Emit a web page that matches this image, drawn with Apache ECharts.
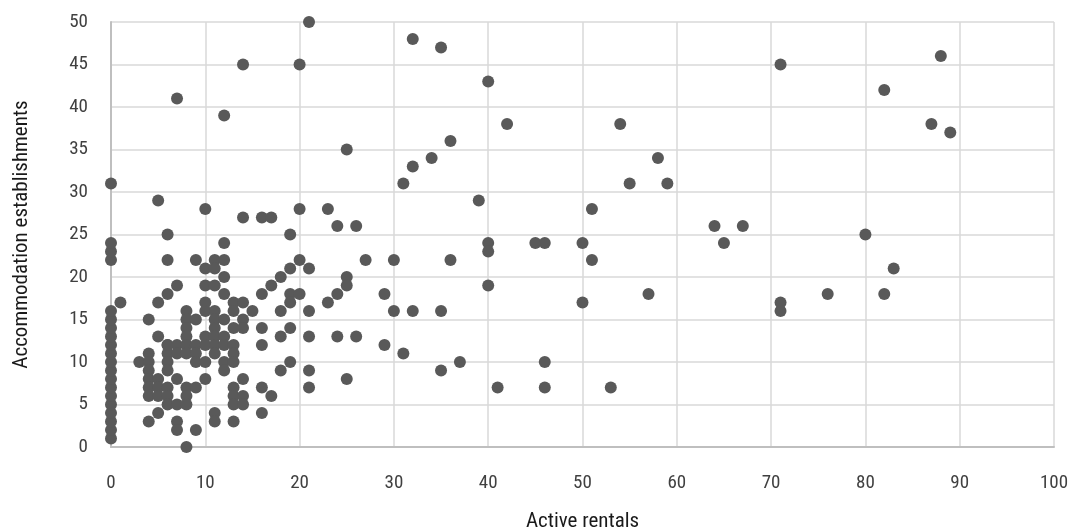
<!DOCTYPE html>
<html>
<head>
<meta charset="utf-8">
<script src="https://cdn.jsdelivr.net/npm/echarts@6/dist/echarts.min.js"></script>
<style>
html,body{margin:0;padding:0;background:#fff;}
#chart{width:1073px;height:530px;}
</style>
</head>
<body>
<div id="chart"></div>
<script>
// Active rentals (x) values, by group
const activeRentals = [
  0,0,0,0,0,0,0,0,0,0,0,0,0,0,0,0,0,0,0,0,
  1,
  3,
  4,4,4,4,4,4,4,4,
  5,5,5,5,5,5,5,
  6,6,6,6,6,6,6,6,6,6,6,
  7,7,7,7,7,7,7,7,
  8,8,8,8,8,8,8,8,8,8,
  9,9,9,9,9,9,9,
  10,10,10,10,10,10,10,10,10,
  11,11,11,11,11,11,11,11,11,11,11,
  12,12,12,12,12,12,12,12,12,12,
  13,13,13,13,13,13,13,13,13,13,
  14,14,14,14,14,14,14,14,
  15,
  16,16,16,16,16,16,
  17,17,17,
  18,18,18,18,
  19,19,19,19,19,19,
  20,20,20,20,
  21,21,21,21,21,21,
  23,23,
  24,24,24,
  25,25,25,25,
  26,26,
  27,
  29,29,
  30,30,
  31,31,
  32,32,32,
  34,
  35,35,35,
  36,36,
  37,
  39,
  40,40,40,40,
  41,
  42,
  45,46,46,46,
  50,50,
  51,51,
  53,
  54,55,57,58,59,
  64,65,67,
  71,71,71,
  76,80,82,82,83,87,88,89
];
// Accommodation establishments (y) values, paired with activeRentals
const establishments = [
  1,2,3,4,5,6,7,8,9,10,11,12,13,14,15,16,22,23,24,31,
  17,
  10,
  15,11,10,9,8,7,6,3,
  29,17,13,8,7,6,4,
  25,22,18,12,11,10,9,7,6,5,12,
  41,19,12,11,8,5,3,2,
  16,15,14,13,12,11,7,6,5,0,
  22,15,12,11,10,7,2,
  28,21,19,17,16,13,12,10,8,
  22,21,19,16,15,14,13,12,11,4,3,
  39,24,22,20,18,15,13,12,10,9,
  17,16,14,12,11,10,7,6,5,3,
  45,27,17,15,14,8,6,5,
  16,
  27,18,14,12,7,4,
  27,19,6,
  20,16,13,9,
  25,21,18,17,14,10,
  45,28,22,18,
  50,21,16,13,9,7,
  28,17,
  26,18,13,
  35,20,19,8,
  26,13,
  22,
  18,12,
  22,16,
  31,11,
  48,33,16,
  34,
  47,16,9,
  36,22,
  10,
  29,
  43,24,23,19,
  7,
  38,
  24,24,10,7,
  24,17,
  28,22,
  7,
  38,31,18,34,31,
  26,24,26,
  45,17,16,
  18,25,42,18,21,38,46,37
];
const xTicks = [0,10,20,30,40,50,60,70,80,90,100];
const yTicks = [0,5,10,15,20,25,30,35,40,45,50];

const points = activeRentals.map((x, i) => [x, establishments[i]]);

const font = '"Roboto Condensed","Liberation Sans Narrow","DejaVu Sans Condensed","Roboto",sans-serif';
const chart = echarts.init(document.getElementById('chart'), null, {renderer: 'canvas'});
chart.setOption({
  animation: false,
  backgroundColor: '#ffffff',
  grid: {left: 111, right: 19, top: 22, bottom: 83, containLabel: false, outerBoundsMode: 'none'},
  xAxis: {
    type: 'value', min: xTicks[0], max: xTicks[xTicks.length - 1], interval: 10,
    name: 'Active rentals', nameLocation: 'middle', nameGap: 64,
    nameTextStyle: {fontFamily: font, fontSize: 21, color: '#1a1a1a'},
    axisLine: {show: true, onZero: false, lineStyle: {color: '#bfbfbf', width: 2}},
    axisTick: {show: false},
    axisLabel: {fontFamily: font, fontSize: 19, color: '#404040', margin: 27},
    splitLine: {show: true, lineStyle: {color: '#d9d9d9', width: 1.5}}
  },
  yAxis: {
    type: 'value', min: yTicks[0], max: yTicks[yTicks.length - 1], interval: 5,
    name: 'Accommodation establishments', nameLocation: 'middle', nameGap: 79,
    nameTextStyle: {fontFamily: font, fontSize: 21, color: '#1a1a1a'},
    axisLine: {show: true, onZero: false, lineStyle: {color: '#bfbfbf', width: 2}},
    axisTick: {show: false},
    axisLabel: {fontFamily: font, fontSize: 19, color: '#404040', margin: 23},
    splitLine: {show: true, lineStyle: {color: '#d9d9d9', width: 1.5}}
  },
  series: [{
    type: 'scatter',
    data: points,
    symbol: 'circle',
    symbolSize: 12,
    itemStyle: {color: '#595959', opacity: 1}
  }]
});
</script>
</body>
</html>
